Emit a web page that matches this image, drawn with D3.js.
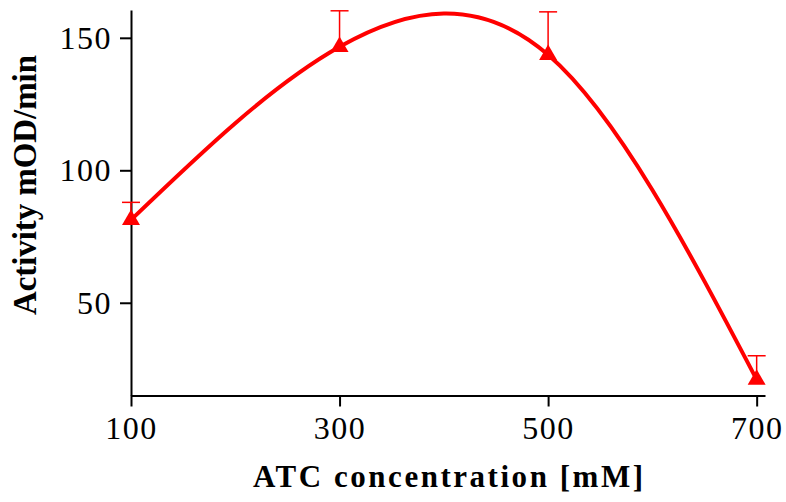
<!DOCTYPE html>
<html>
<head>
<meta charset="utf-8">
<script src="https://cdn.jsdelivr.net/npm/d3@7"></script>
<style>
  html, body { margin: 0; padding: 0; background: #fff; }
  svg { display: block; }
  text { font-family: "Liberation Serif", "Times New Roman", serif; fill: #000; }
</style>
</head>
<body>
<svg id="chart" width="786" height="502"></svg>
<script>
// ATC concentration (mM) and measured activity (mOD/min) with upper error
const concentrations = [100, 300, 500, 700];
const activity = [81.3, 146.6, 143.6, 21.0];
const errorUp = [6.6, 13.6, 16.2, 9.0];
const xTicks = [100, 300, 500, 700];
const yTicks = [50, 100, 150];

const svg = d3.select("#chart");
const margin = { left: 131, top: 10, right: 21, bottom: 106.5 };
const W = 786 - margin.left - margin.right;
const H = 502 - margin.top - margin.bottom;

const x = d3.scaleLinear().domain([100, 708]).range([0, W]);
const y = d3.scaleLinear().domain([15, 160.5]).range([H, 0]);

const g = svg.append("g").attr("transform", `translate(${margin.left},${margin.top})`);

const red = "#ff0000";

// axes
const xAxis = g.append("g").attr("transform", `translate(0,${H})`)
  .call(d3.axisBottom(x).tickValues(xTicks).tickSize(11).tickPadding(10).tickSizeOuter(0));
const yAxis = g.append("g")
  .call(d3.axisLeft(y).tickValues(yTicks).tickSize(11).tickPadding(8).tickSizeOuter(0));
[xAxis, yAxis].forEach(a => {
  a.select(".domain").attr("stroke", "#000").attr("stroke-width", 2);
  a.selectAll(".tick line").attr("stroke", "#000").attr("stroke-width", 2);
  a.selectAll(".tick text").attr("font-family", "Liberation Serif")
    .attr("font-size", 32).style("letter-spacing", "1.5px").attr("fill", "#000");
});
xAxis.selectAll(".tick text").attr("dy", "0.7em");

// fitted curve
const pts = concentrations.map((c, i) => [x(c), y(activity[i])]);
g.append("path")
  .attr("d", d3.line().curve(d3.curveNatural)(pts))
  .attr("fill", "none").attr("stroke", red).attr("stroke-width", 4);

// upper error bars
const eb = g.append("g").attr("stroke", red).attr("stroke-width", 1.5);
concentrations.forEach((c, i) => {
  const cx = x(c), top = y(activity[i] + errorUp[i]);
  eb.append("line").attr("x1", cx).attr("x2", cx).attr("y1", y(activity[i])).attr("y2", top);
  eb.append("line").attr("x1", cx - 9).attr("x2", cx + 9).attr("y1", top).attr("y2", top);
});

// markers
g.selectAll(".pt").data(concentrations).join("path")
  .attr("class", "pt")
  .attr("transform", (c, i) => `translate(${x(c)},${y(activity[i])})`)
  .attr("d", d3.symbol(d3.symbolTriangle).size(140))
  .attr("fill", red);

// axis titles
svg.append("text")
  .attr("x", 448).attr("y", 487)
  .attr("text-anchor", "middle")
  .attr("font-weight", "bold").attr("font-size", 31)
  .attr("textLength", 390).attr("lengthAdjust", "spacing")
  .text("ATC concentration [mM]");

svg.append("text")
  .attr("transform", "translate(36,185) rotate(-90)")
  .attr("text-anchor", "middle")
  .attr("font-weight", "bold").attr("font-size", 33)
  .attr("textLength", 260).attr("lengthAdjust", "spacing")
  .text("Activity mOD/min");
</script>
</body>
</html>
